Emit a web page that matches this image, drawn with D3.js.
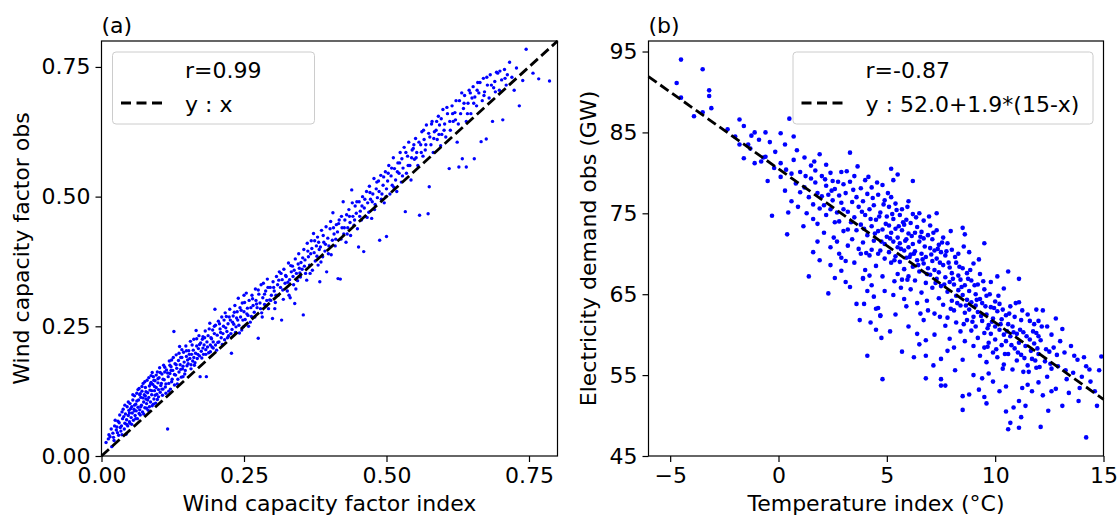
<!DOCTYPE html>
<html>
<head>
<meta charset="utf-8">
<script src="https://cdn.jsdelivr.net/npm/d3@7"></script>
<style>
  body { margin: 0; background: #fff; }
  text { font-family: "DejaVu Sans", sans-serif; fill: #000; }
</style>
</head>
<body>
<div class="canvas"></div>
<script>
// panel (a): wind capacity factor, index vs obs  [index, obs]
const windPts = [
  [0.008,0.026],[0.012,0.033],[0.015,0.037],[0.018,0.018],[0.02,0.044],[0.022,0.03],[0.024,0.069],[0.026,0.05],[0.027,0.056],[0.03,0.04],
  [0.031,0.064],[0.032,0.079],[0.034,0.048],[0.035,0.058],[0.037,0.072],[0.038,0.09],[0.04,0.052],[0.041,0.063],[0.042,0.081],[0.044,0.07],
  [0.045,0.095],[0.046,0.058],[0.047,0.078],[0.048,0.088],[0.049,0.066],[0.05,0.063],[0.05,0.101],[0.043,0.042],[0.036,0.085],[0.028,0.045],
  [0.052,0.074],[0.053,0.095],[0.054,0.083],[0.055,0.108],[0.056,0.069],[0.057,0.09],[0.058,0.116],[0.059,0.078],[0.06,0.1],[0.061,0.087],
  [0.062,0.121],[0.063,0.072],[0.064,0.094],[0.065,0.108],[0.066,0.13],[0.067,0.089],[0.068,0.079],[0.069,0.113],[0.07,0.098],[0.071,0.125],
  [0.072,0.085],[0.073,0.14],[0.074,0.104],[0.075,0.118],[0.076,0.093],[0.077,0.132],[0.078,0.11],[0.079,0.101],[0.08,0.146],[0.081,0.122],
  [0.082,0.088],[0.083,0.113],[0.084,0.135],[0.085,0.127],[0.086,0.104],[0.087,0.155],[0.088,0.118],[0.089,0.097],[0.09,0.138],[0.091,0.153],
  [0.092,0.11],[0.093,0.126],[0.094,0.145],[0.095,0.102],[0.096,0.132],[0.097,0.119],[0.098,0.162],[0.099,0.141],[0.1,0.114],[0.1,0.128],
  [0.101,0.151],[0.102,0.17],[0.103,0.123],[0.104,0.136],[0.105,0.14],[0.106,0.158],[0.107,0.117],[0.108,0.129],[0.109,0.175],[0.11,0.147],
  [0.111,0.162],[0.112,0.133],[0.113,0.121],[0.114,0.166],[0.116,0.052],[0.117,0.153],[0.118,0.14],[0.119,0.183],[0.12,0.159],[0.121,0.129],
  [0.122,0.172],[0.123,0.185],[0.124,0.148],[0.125,0.165],[0.127,0.24],[0.128,0.137],[0.129,0.178],[0.13,0.156],[0.131,0.195],[0.132,0.169],
  [0.134,0.148],[0.135,0.184],[0.136,0.162],[0.137,0.211],[0.138,0.176],[0.14,0.152],[0.141,0.19],[0.142,0.168],[0.143,0.153],[0.144,0.2],
  [0.145,0.181],[0.147,0.165],[0.148,0.212],[0.149,0.192],[0.15,0.174],
  [0.152,0.178],[0.153,0.203],[0.155,0.188],[0.156,0.221],[0.157,0.168],[0.158,0.196],[0.16,0.183],[0.161,0.204],[0.162,0.225],[0.163,0.175],
  [0.165,0.198],[0.166,0.242],[0.167,0.212],[0.168,0.188],[0.17,0.207],[0.171,0.232],[0.172,0.193],[0.173,0.153],[0.174,0.218],[0.175,0.202],
  [0.177,0.225],[0.178,0.23],[0.179,0.196],[0.18,0.214],[0.182,0.241],[0.183,0.205],[0.184,0.153],[0.185,0.22],[0.187,0.232],[0.188,0.199],
  [0.19,0.256],[0.191,0.214],[0.192,0.228],[0.194,0.21],[0.195,0.243],[0.196,0.22],[0.198,0.236],[0.199,0.283],[0.2,0.214],[0.2,0.252],
  [0.202,0.204],[0.203,0.233],[0.205,0.26],[0.206,0.22],[0.208,0.245],[0.21,0.228],[0.211,0.268],[0.213,0.236],[0.214,0.25],[0.216,0.224],
  [0.217,0.276],[0.219,0.269],[0.22,0.24],[0.222,0.255],[0.223,0.232],[0.225,0.283],[0.226,0.262],[0.228,0.198],[0.229,0.244],[0.231,0.27],
  [0.232,0.254],[0.234,0.29],[0.235,0.238],[0.237,0.266],[0.238,0.278],[0.24,0.304],[0.241,0.252],[0.243,0.286],[0.244,0.268],[0.246,0.243],
  [0.247,0.295],[0.249,0.249],[0.25,0.278],[0.25,0.31],
  [0.252,0.263],[0.254,0.314],[0.256,0.285],[0.257,0.271],[0.259,0.3],[0.261,0.258],[0.263,0.269],[0.264,0.31],[0.266,0.29],[0.268,0.277],
  [0.27,0.322],[0.271,0.3],[0.273,0.286],[0.275,0.227],[0.276,0.312],[0.278,0.295],[0.28,0.33],[0.281,0.276],[0.283,0.305],[0.284,0.333],
  [0.286,0.292],[0.288,0.318],[0.29,0.3],[0.291,0.341],[0.293,0.284],[0.295,0.301],[0.296,0.325],[0.298,0.31],[0.3,0.265],[0.301,0.336],
  [0.303,0.318],[0.305,0.296],[0.307,0.346],[0.309,0.33],[0.31,0.31],[0.312,0.355],[0.314,0.325],[0.316,0.262],[0.317,0.34],[0.319,0.302],
  [0.32,0.36],[0.322,0.333],[0.324,0.346],[0.326,0.318],[0.328,0.372],[0.33,0.34],[0.331,0.305],[0.333,0.355],[0.335,0.366],[0.337,0.33],
  [0.339,0.294],[0.34,0.38],[0.342,0.352],[0.344,0.338],[0.346,0.39],[0.347,0.362],[0.349,0.345],[0.35,0.373],
  [0.352,0.36],[0.354,0.272],[0.355,0.398],[0.357,0.378],[0.358,0.352],[0.36,0.339],[0.361,0.41],[0.363,0.384],[0.365,0.368],[0.367,0.39],
  [0.368,0.415],[0.37,0.358],[0.372,0.429],[0.373,0.392],[0.375,0.376],[0.377,0.405],[0.379,0.422],[0.38,0.368],[0.382,0.398],[0.383,0.336],
  [0.384,0.403],[0.386,0.435],[0.388,0.384],[0.39,0.412],[0.392,0.395],[0.394,0.442],[0.395,0.355],[0.397,0.42],[0.399,0.405],
  [0.401,0.438],[0.403,0.388],[0.405,0.416],[0.406,0.469],[0.408,0.428],[0.41,0.405],[0.412,0.446],[0.414,0.432],[0.415,0.342],[0.417,0.455],
  [0.419,0.341],[0.42,0.418],[0.422,0.44],[0.424,0.49],[0.425,0.428],[0.427,0.455],[0.429,0.412],[0.43,0.465],[0.432,0.44],[0.434,0.475],
  [0.436,0.45],[0.437,0.425],[0.439,0.513],[0.441,0.462],[0.443,0.445],[0.445,0.482],[0.447,0.468],[0.449,0.438],
  [0.451,0.403],[0.452,0.49],[0.454,0.472],[0.456,0.455],[0.458,0.5],[0.46,0.394],[0.461,0.478],[0.463,0.462],[0.465,0.51],[0.467,0.488],
  [0.469,0.47],[0.47,0.52],[0.472,0.495],[0.474,0.458],[0.476,0.505],[0.478,0.535],[0.48,0.485],[0.482,0.515],[0.484,0.498],[0.486,0.53],
  [0.488,0.416],[0.49,0.541],[0.492,0.505],[0.494,0.522],[0.496,0.488],[0.498,0.548],[0.5,0.423],[0.5,0.515],
  [0.502,0.53],[0.504,0.56],[0.506,0.505],[0.508,0.54],[0.51,0.522],[0.512,0.575],[0.514,0.554],[0.516,0.532],[0.518,0.51],[0.52,0.565],
  [0.522,0.545],[0.524,0.585],[0.526,0.528],[0.527,0.573],[0.529,0.555],[0.531,0.595],[0.533,0.471],[0.535,0.545],[0.537,0.578],[0.539,0.605],
  [0.541,0.56],[0.543,0.532],[0.545,0.59],[0.547,0.593],[0.549,0.572],
  [0.551,0.612],[0.553,0.585],[0.555,0.56],[0.558,0.464],[0.56,0.6],[0.562,0.625],[0.564,0.578],[0.566,0.61],[0.568,0.59],[0.57,0.638],
  [0.573,0.467],[0.575,0.519],[0.576,0.615],[0.578,0.6],[0.58,0.645],[0.582,0.585],[0.584,0.625],[0.587,0.628],[0.589,0.61],[0.591,0.655],
  [0.593,0.638],[0.595,0.598],[0.597,0.62],[0.599,0.668],
  [0.602,0.64],[0.604,0.615],[0.607,0.66],[0.61,0.554],[0.612,0.628],[0.615,0.675],[0.617,0.645],[0.62,0.662],[0.621,0.648],[0.624,0.605],
  [0.627,0.557],[0.628,0.685],[0.63,0.66],[0.633,0.573],[0.635,0.67],[0.637,0.695],[0.64,0.557],[0.64,0.645],[0.643,0.68],[0.645,0.705],
  [0.648,0.66],[0.65,0.69],
  [0.652,0.712],[0.654,0.573],[0.655,0.692],[0.658,0.675],[0.66,0.72],[0.662,0.7],[0.666,0.606],[0.668,0.685],[0.67,0.728],[0.672,0.702],
  [0.675,0.611],[0.677,0.715],[0.68,0.69],[0.682,0.735],[0.686,0.645],[0.688,0.71],[0.69,0.722],[0.693,0.74],[0.695,0.738],[0.698,0.705],
  [0.702,0.725],[0.704,0.648],[0.707,0.745],[0.71,0.715],[0.712,0.735],[0.716,0.759],[0.72,0.73],[0.724,0.705],[0.728,0.748],[0.733,0.675],
  [0.739,0.724],[0.745,0.784],[0.757,0.738],[0.767,0.727],[0.786,0.723]
];
// second pass over the same cloud (points in between the first reading)
const windPts2 = [
  [0.013,0.041],[0.017,0.052],[0.021,0.036],[0.023,0.058],[0.029,0.067],[0.033,0.055],[0.036,0.041],[0.039,0.076],[0.041,0.098],[0.044,0.061],
  [0.047,0.104],[0.049,0.083],[0.051,0.091],[0.053,0.061],[0.055,0.118],[0.058,0.098],[0.06,0.072],[0.062,0.106],[0.064,0.128],[0.066,0.082],
  [0.068,0.12],[0.069,0.095],[0.071,0.134],[0.073,0.112],[0.074,0.081],[0.076,0.143],[0.078,0.124],[0.079,0.092],[0.081,0.108],[0.083,0.151],
  [0.084,0.095],[0.086,0.139],[0.088,0.126],[0.089,0.161],[0.091,0.1],[0.093,0.134],[0.094,0.117],[0.096,0.156],[0.098,0.109],[0.099,0.149],
  [0.067,0.118],[0.058,0.087],[0.077,0.116],[0.087,0.142],[0.092,0.146],
  [0.103,0.161],[0.106,0.129],[0.108,0.148],[0.111,0.171],[0.113,0.139],[0.116,0.16],[0.118,0.125],[0.12,0.175],[0.123,0.143],[0.126,0.19],
  [0.128,0.157],[0.131,0.176],[0.133,0.139],[0.136,0.198],[0.139,0.167],[0.141,0.205],[0.143,0.173],[0.146,0.158],[0.149,0.203],[0.151,0.185],
  [0.154,0.196],[0.157,0.176],[0.159,0.214],[0.162,0.19],[0.164,0.18],[0.167,0.226],[0.169,0.196],[0.172,0.215],[0.176,0.189],[0.178,0.208],
  [0.181,0.228],[0.183,0.196],[0.186,0.21],[0.189,0.245],[0.191,0.201],[0.193,0.226],[0.196,0.208],[0.198,0.25],[0.139,0.19],[0.122,0.165],
  [0.204,0.219],[0.207,0.255],[0.209,0.238],[0.212,0.215],[0.215,0.262],[0.218,0.247],[0.221,0.228],[0.224,0.268],[0.227,0.236],[0.23,0.258],
  [0.233,0.277],[0.236,0.249],[0.239,0.262],[0.242,0.237],[0.245,0.281],[0.248,0.262],[0.251,0.296],[0.255,0.274],[0.258,0.25],[0.262,0.286],
  [0.265,0.303],[0.269,0.268],[0.272,0.293],[0.275,0.32],[0.279,0.284],[0.282,0.268],[0.286,0.312],[0.289,0.29],[0.292,0.325],[0.297,0.3],
  [0.302,0.325],[0.306,0.31],[0.311,0.339],[0.315,0.352],[0.318,0.32],[0.323,0.348],[0.327,0.335],[0.332,0.367],[0.336,0.346],[0.341,0.322],
  [0.345,0.37],[0.348,0.353],[0.304,0.284],[0.329,0.31],[0.338,0.358],
  [0.353,0.382],[0.356,0.366],[0.362,0.395],[0.366,0.352],[0.369,0.4],[0.374,0.415],[0.378,0.385],[0.381,0.412],[0.385,0.374],[0.389,0.425],
  [0.393,0.408],[0.398,0.39],[0.402,0.452],[0.407,0.44],[0.411,0.418],[0.416,0.448],[0.421,0.462],[0.426,0.44],[0.431,0.428],[0.435,0.462],
  [0.44,0.488],[0.444,0.455],[0.448,0.49],[0.453,0.462],[0.457,0.482],[0.462,0.495],[0.466,0.46],[0.471,0.508],[0.475,0.49],[0.479,0.475],
  [0.483,0.528],[0.487,0.51],[0.491,0.495],[0.495,0.538],[0.499,0.5],[0.503,0.545],[0.509,0.555],[0.513,0.518],[0.519,0.548],[0.523,0.565],
  [0.528,0.54],[0.534,0.585],[0.538,0.56],[0.544,0.575],[0.548,0.6],
  [0.552,0.575],[0.557,0.605],[0.561,0.585],[0.565,0.628],[0.569,0.6],[0.574,0.622],[0.579,0.64],[0.583,0.612],[0.588,0.645],[0.592,0.62],
  [0.596,0.65],[0.601,0.628],[0.606,0.672],[0.611,0.645],[0.616,0.66],[0.622,0.685],[0.626,0.64],[0.632,0.7],[0.636,0.68],[0.642,0.66],
  [0.647,0.7],[0.653,0.68],[0.659,0.705],[0.664,0.72],[0.671,0.695],[0.676,0.73],[0.684,0.715],[0.691,0.702],[0.699,0.742],[0.708,0.728]
];

// panel (b): temperature index (degC) vs electricity demand obs (GW)  [temp, demand]
const tempPts = [
  [-4.5,94.0],[-4.7,91.1],[-3.5,92.8],[-3.2,90.2],[-3.2,89.5],[-3.1,88.0],[-4.5,89.3],[-3.5,87.5],[-3.9,87.0],[-1.8,86.6],
  [-1.6,85.8],[-1.1,85.0],[-0.6,85.0],[-1.8,83.5],[-1.4,83.5],[-1.6,81.8],[-1.1,81.2],[-0.8,81.4],[-0.6,82.0],[-0.7,81.9],
  [-0.5,79.0],[-0.3,74.7],[-1.3,83.0],[-0.9,84.1],[-0.2,80.6],[-0.4,83.8],[-2.0,84.5],
  [0.1,84.9],[0.5,86.7],[0.3,83.5],[0.7,84.5],[0.7,81.6],[1.2,81.9],[0.1,81.2],[0.1,79.5],[0.6,79.9],[1.0,80.1],
  [1.5,80.9],[1.7,80.3],[2.4,80.0],[2.9,80.1],[0.4,72.4],[1.8,73.7],[1.8,71.5],[1.6,70.2],[2.4,68.6],[1.4,67.2],
  [2.3,65.1],[2.9,67.9],[1.2,78.2],[1.4,77.0],[1.5,79.3],[1.6,76.1],[1.7,78.8],[1.8,77.5],[1.9,75.6],[2.0,79.6],
  [2.0,77.1],[2.1,76.0],[2.2,78.4],[2.2,74.8],[2.3,77.3],[2.4,75.5],[2.5,79.0],[2.5,76.6],[2.6,73.9],[2.6,78.0],
  [2.7,75.1],[2.8,77.2],[2.8,74.0],[2.9,76.3],[3.0,78.6],[3.0,72.8],[1.0,77.6],[0.8,78.7],[0.6,76.5],[1.3,75.0],
  [2.1,72.6],[1.6,74.3],[2.7,71.5],[2.4,70.8],[2.9,69.5],[1.9,69.2],[2.6,67.0],[0.9,75.8],[2.2,81.0],[1.9,82.3],
  [0.3,77.8],[2.8,70.0],
  [3.3,82.5],[3.1,69.1],[3.1,66.5],[3.3,65.9],[3.9,67.0],[4.3,66.1],[4.1,65.4],[4.6,63.3],[4.7,62.4],[4.9,65.4],
  [4.1,57.4],[4.5,60.6],[4.5,63.2],[4.7,62.3],[4.8,54.5],[3.9,66.9],[3.1,77.5],[3.2,75.2],[3.2,73.0],[3.3,78.9],
  [3.4,76.4],[3.4,71.8],[3.5,74.5],[3.5,79.6],[3.6,72.9],[3.6,77.0],[3.7,75.8],[3.7,70.6],[3.8,78.1],[3.8,73.6],
  [3.9,76.5],[3.9,71.4],[4.0,74.8],[4.0,79.1],[4.1,72.3],[4.1,77.4],[4.2,75.5],[4.2,69.8],[4.3,73.4],[4.3,78.2],
  [4.4,71.6],[4.4,76.0],[4.5,74.2],[4.5,68.5],[4.6,77.3],[4.6,72.8],[4.7,70.4],[4.7,75.1],[4.8,73.0],[4.8,78.5],
  [4.9,71.2],[4.9,69.4],[5.0,74.6],[5.0,72.1],[3.5,68.9],[3.8,70.0],[4.0,68.0],[4.2,67.3],[4.4,64.7],[3.6,63.8],
  [4.8,67.2],[3.2,71.0],[4.6,70.0],[4.9,76.6],[3.0,75.5],[4.3,70.5],
  [5.5,79.8],[5.3,79.1],[5.3,64.9],[5.8,64.4],[5.7,57.9],[6.4,60.1],[6.8,59.3],[6.8,57.4],[6.8,54.6],[7.5,54.5],
  [7.5,53.7],[7.7,53.7],[7.7,61.1],[7.8,58.0],
  [5.1,73.5],[5.1,70.2],[5.1,75.8],[5.2,72.6],[5.2,68.9],[5.2,77.0],[5.3,71.5],[5.3,74.3],[5.4,69.7],[5.4,73.1],
  [5.4,76.2],[5.5,70.8],[5.5,72.0],[5.5,67.5],[5.6,74.8],[5.6,71.3],[5.6,69.0],[5.7,72.9],[5.7,66.8],[5.7,75.5],
  [5.8,70.4],[5.8,73.6],[5.8,68.1],[5.9,71.8],[5.9,74.2],[5.9,69.5],[6.0,72.5],[6.0,67.2],[6.0,70.8],[6.1,73.8],
  [6.1,69.9],[6.1,65.6],[6.2,71.2],[6.2,68.4],[6.2,74.9],[6.3,70.3],[6.3,72.6],[6.3,66.7],[6.4,69.2],[6.4,73.3],
  [6.4,63.9],[6.5,71.5],[6.5,67.8],[6.5,75.0],[6.6,70.0],[6.6,72.7],[6.6,65.2],[6.7,68.8],[6.7,71.9],[6.7,74.1],
  [6.8,69.6],[6.8,66.4],[6.9,72.3],[6.9,68.2],[6.9,63.0],[7.0,70.7],[7.0,67.4],[7.0,73.5],[7.1,69.1],[7.1,65.8],
  [7.1,71.8],[7.2,68.0],[7.2,70.4],[7.2,62.6],[7.3,72.9],[7.3,66.9],[7.3,69.4],[7.4,64.5],[7.4,71.1],[7.4,67.7],
  [7.5,70.2],[7.5,66.0],[7.6,68.6],[7.6,72.0],[7.6,63.7],[7.7,67.1],[7.7,69.8],[7.8,65.3],[7.8,71.3],[7.8,62.1],
  [7.9,68.3],[7.9,66.5],[8.0,70.5],[8.0,64.2],[8.0,67.6],
  [5.4,62.5],[6.0,61.0],[6.5,58.8],[7.2,60.0],[7.9,59.5],[5.9,63.5],[6.7,61.8],[7.5,57.0],[5.2,80.5],[6.2,79.0],
  [7.3,75.0],[6.0,76.5],
  [8.1,58.4],[8.5,52.4],[8.5,50.7],[8.5,56.9],[9.5,52.3],[9.4,54.6],[9.7,55.2],[9.9,54.2],[10.5,53.6],[10.5,50.5],
  [10.7,49.1],[10.6,48.3],[11.1,51.8],[11.2,49.8],[11.1,48.5],[11.5,53.8],[11.7,53.0],[12.0,54.1],[11.9,63.1],[12.0,61.7],
  [11.8,61.3],[11.6,61.7],[11.1,64.0],[10.6,67.8],[11.1,66.9],[10.1,67.2],[10.4,65.7],[9.5,71.3],[8.8,70.2],[8.5,73.2],
  [8.6,72.4],
  [8.1,66.2],[8.1,63.0],[8.2,68.9],[8.2,64.8],[8.2,61.5],[8.3,67.3],[8.3,65.5],[8.3,70.0],[8.4,63.6],[8.4,66.8],
  [8.4,60.4],[8.5,64.9],[8.5,68.2],[8.6,62.7],[8.6,66.1],[8.6,59.2],[8.7,64.3],[8.7,67.6],[8.7,61.8],[8.8,65.4],
  [8.8,63.1],[8.9,60.5],[8.9,66.7],[8.9,64.0],[9.0,62.2],[9.0,68.8],[9.0,58.6],[9.1,65.0],[9.1,61.0],[9.1,63.6],
  [9.2,66.2],[9.2,59.6],[9.2,62.8],[9.3,64.4],[9.3,57.4],[9.3,67.5],[9.4,61.7],[9.4,63.9],[9.5,60.2],[9.5,65.6],
  [9.5,58.4],[9.6,62.5],[9.6,64.8],[9.6,56.6],[9.7,61.2],[9.7,59.0],[9.8,63.4],[9.8,66.5],[9.8,60.1],[9.9,62.0],
  [9.9,57.8],[10.0,64.1],[10.0,61.0],[10.0,59.4],[10.1,62.9],[10.1,57.2],[10.2,60.6],[10.2,63.8],[10.3,58.7],[10.3,61.9],
  [10.4,60.0],[10.4,56.3],[10.5,62.4],[10.5,59.2],[10.6,61.3],[10.6,57.6],[10.7,63.5],[10.7,59.8],[10.8,55.7],[10.8,61.0],
  [10.9,58.3],[10.9,62.2],[11.0,60.1],[11.0,56.8],[11.1,59.0],[11.2,61.8],[11.2,57.5],[11.3,60.3],[11.3,55.4],[11.4,58.6],
  [11.5,62.5],[11.5,56.2],[11.6,59.4],[11.7,57.0],[11.8,58.9],[11.9,55.9],[11.9,60.2],[12.0,57.6],
  [9.0,55.0],[10.2,53.0],[8.8,52.6],[9.6,51.5],[11.4,51.2],
  [12.1,48.6],[12.2,52.5],[12.6,53.0],[12.8,53.3],[13.1,60.7],[13.1,51.2],[13.4,52.8],[13.8,56.9],[14.0,54.8],[14.2,47.3],
  [14.2,56.1],[14.7,51.2],[14.8,55.6],[14.9,57.3],[12.6,55.8],[12.7,58.4],[13.0,59.2],[12.6,60.0],[12.2,63.0],[12.1,59.3],
  [12.3,56.7],[12.4,61.0],[12.4,54.8],[12.5,57.9],[12.9,56.1],[13.2,57.8],[13.3,54.5],[13.5,58.6],[13.6,55.3],[13.9,53.4],
  [14.1,57.2],[14.4,54.2],[14.6,53.0],[12.8,62.0],[12.0,59.8]
];
// second pass over the dense middle of the cloud
const tempPts2 = [
  [-2.35,85.4],[-1.25,84.6],[-0.15,82.6],[0.35,80.4],[0.85,82.8],[1.25,79.6],[1.65,81.4],[2.15,79.2],[2.45,77.8],[2.75,78.9],
  [3.15,80.2],[3.45,77.9],[3.65,80.8],[3.85,75.2],[3.95,73.1],[4.15,79.5],[4.25,74.3],[4.35,76.9],[4.45,72.5],[4.55,78.8],
  [4.65,74.6],[4.75,71.5],[4.85,76.1],[4.95,73.7],[5.05,77.5],[5.15,71.9],[5.25,74.9],[5.35,69.2],[5.45,75.4],[5.55,73.4],
  [5.65,70.6],[5.75,73.9],[5.85,71.6],[5.95,75.8],[6.05,69.6],[6.15,72.2],[6.25,70.0],[6.35,74.5],[6.45,68.6],[6.55,72.1],
  [6.65,69.3],[6.75,70.9],[6.85,67.5],[6.95,74.6],[7.05,69.9],[7.15,72.6],[7.25,66.4],[7.35,70.6],[7.45,68.9],[7.55,71.4],
  [7.65,66.2],[7.75,70.3],[7.85,68.9],[7.95,72.8],[8.05,66.9],[8.15,69.6],[8.25,63.9],[8.35,68.4],[8.45,65.9],[8.55,70.9],
  [8.65,63.6],[8.75,66.9],[8.85,68.0],[8.95,61.6],[9.05,66.1],[9.15,64.3],[9.25,69.3],[9.35,62.3],[9.45,66.6],[9.55,63.5],
  [9.65,60.8],[9.75,65.0],[9.85,61.6],[9.95,63.3],[10.05,58.2],[10.15,64.8],[10.25,61.3],[10.35,63.1],[10.45,57.6],[10.55,60.4],
  [10.65,62.6],[10.75,58.7],[10.85,60.3],[10.95,63.9],[11.05,57.8],[11.15,60.6],[11.25,63.0],[11.35,57.1],[11.45,59.8],[11.55,55.4],
  [11.65,58.0],[11.75,60.4],[11.85,56.8],[11.95,58.3],[12.05,56.0],[12.15,61.0],[12.35,58.2],[12.55,56.4],[12.85,57.5],[13.25,55.6],
  [13.65,57.4],[14.35,55.7],[13.85,51.8],[12.45,50.6],[11.25,53.4],[10.85,51.0],[9.25,53.2],[8.15,55.6],[7.15,56.2],[6.25,57.2],
  [5.15,60.4],[4.25,61.5],[3.75,61.8],[6.55,62.6],[5.65,65.8],[4.05,70.1],[3.35,73.9],[2.55,72.0],[1.15,73.4],[0.45,75.1],
  [5.95,66.8],[6.85,64.2],[7.95,63.2],[8.55,61.3],[9.65,58.5],[10.35,55.8],[7.45,62.2],[5.35,66.6],[3.95,63.8],[4.75,59.6]
];

// tick values
const windTicks = [0, 0.25, 0.5, 0.75];
const tempTicks = [-5, 0, 5, 10, 15];
const demandTicks = [45, 55, 65, 75, 85, 95];

// fit line in (b): y = 52.0 + 1.9*(15 - x)
const fitBase = 52.0, fitSlope = 1.9, fitRef = 15;

const legendA = ['r=0.99', 'y : x'];
const legendB = ['r=-0.87', 'y : 52.0+1.9*(15-x)'];

const dims = { width: 1118, height: 516, top: 41, bottom: 456, fs: 22 };

const svg = d3.select('.canvas')
    .append('svg')
    .attr('width', dims.width)
    .attr('height', dims.height);

// one panel: frame, axes, labels, dots, dashed line, legend
const drawPanel = (cfg) => {
    const x = d3.scaleLinear().domain(cfg.xDomain).range([cfg.left, cfg.right]);
    const y = d3.scaleLinear().domain(cfg.yDomain).range([dims.bottom, dims.top]);

    const g = svg.append('g');

    // dots
    g.append('g').selectAll('circle')
        .data(cfg.points)
        .join('circle')
        .attr('cx', d => x(d[0]))
        .attr('cy', d => y(d[1]))
        .attr('r', cfg.r)
        .attr('fill', '#0000ff');

    // dashed reference line
    g.append('line')
        .attr('x1', x(cfg.line[0][0])).attr('y1', y(cfg.line[0][1]))
        .attr('x2', x(cfg.line[1][0])).attr('y2', y(cfg.line[1][1]))
        .attr('stroke', '#000')
        .attr('stroke-width', 2.8)
        .attr('stroke-dasharray', '10,4.5');

    // axes
    const xAxis = g.append('g')
        .attr('transform', `translate(0,${dims.bottom})`)
        .call(d3.axisBottom(x).tickValues(cfg.xTicks).tickFormat(cfg.fmt).tickSize(6).tickPadding(5.5));
    const yAxis = g.append('g')
        .attr('transform', `translate(${cfg.left},0)`)
        .call(d3.axisLeft(y).tickValues(cfg.yTicks).tickFormat(cfg.yFmt).tickSize(6).tickPadding(5));
    [xAxis, yAxis].forEach(a => {
        a.select('.domain').remove();
        a.selectAll('line').attr('stroke', '#000').attr('stroke-width', 1.2);
        a.selectAll('text')
            .attr('font-size', dims.fs)
            .attr('font-family', '"DejaVu Sans", sans-serif')
            .attr('fill', '#000');
    });

    // frame
    g.append('rect')
        .attr('x', cfg.left).attr('y', dims.top)
        .attr('width', cfg.right - cfg.left)
        .attr('height', dims.bottom - dims.top)
        .attr('fill', 'none')
        .attr('stroke', '#000')
        .attr('stroke-width', 1.2);

    // titles
    g.append('text')
        .attr('x', cfg.left).attr('y', 33)
        .attr('font-size', dims.fs)
        .text(cfg.tag);
    g.append('text')
        .attr('x', (cfg.left + cfg.right) / 2).attr('y', 511)
        .attr('text-anchor', 'middle')
        .attr('font-size', dims.fs)
        .text(cfg.xLabel);
    g.append('text')
        .attr('transform', `translate(${cfg.yLabelX},${(dims.top + dims.bottom) / 2}) rotate(-90)`)
        .attr('text-anchor', 'middle')
        .attr('font-size', dims.fs)
        .text(cfg.yLabel);

    // legend
    const lg = g.append('g').attr('transform', `translate(${cfg.legX},52)`);
    lg.append('rect')
        .attr('width', cfg.legW).attr('height', 72)
        .attr('rx', 3.5)
        .attr('fill', 'rgba(255,255,255,0.8)')
        .attr('stroke', '#cccccc')
        .attr('stroke-width', 1);
    lg.append('line')
        .attr('x1', 8.5).attr('x2', 51)
        .attr('y1', 51).attr('y2', 51)
        .attr('stroke', '#000')
        .attr('stroke-width', 2.8)
        .attr('stroke-dasharray', '10,5.5');
    lg.selectAll('text.leg')
        .data(cfg.legend)
        .join('text')
        .attr('class', 'leg')
        .attr('x', 72.5)
        .attr('y', (d, i) => 26 + i * 34)
        .attr('font-size', dims.fs)
        .text(d => d);
};

drawPanel({
    points: windPts.concat(windPts2), r: 1.7,
    xDomain: [0, 0.8], yDomain: [0, 0.8],
    left: 101.5, right: 557.5,
    xTicks: windTicks, yTicks: windTicks,
    fmt: d3.format('.2f'), yFmt: d3.format('.2f'),
    line: [[0, 0], [0.8, 0.8]],
    tag: '(a)',
    xLabel: 'Wind capacity factor index',
    yLabel: 'Wind capacity factor obs', yLabelX: 29,
    legX: 112.5, legW: 202, legend: legendA
});

drawPanel({
    points: tempPts.concat(tempPts2), r: 2.3,
    xDomain: [-6, 15], yDomain: [45, 96.3],
    left: 648.5, right: 1103.5,
    xTicks: tempTicks, yTicks: demandTicks,
    fmt: d3.format('d'), yFmt: d3.format('d'),
    line: [[-6, fitBase + fitSlope * (fitRef + 6)], [15, fitBase + fitSlope * (fitRef - 15)]],
    tag: '(b)',
    xLabel: 'Temperature index (°C)',
    yLabel: 'Electricity demand obs (GW)', yLabelX: 596,
    legX: 793, legW: 300, legend: legendB
});
</script>
</body>
</html>
